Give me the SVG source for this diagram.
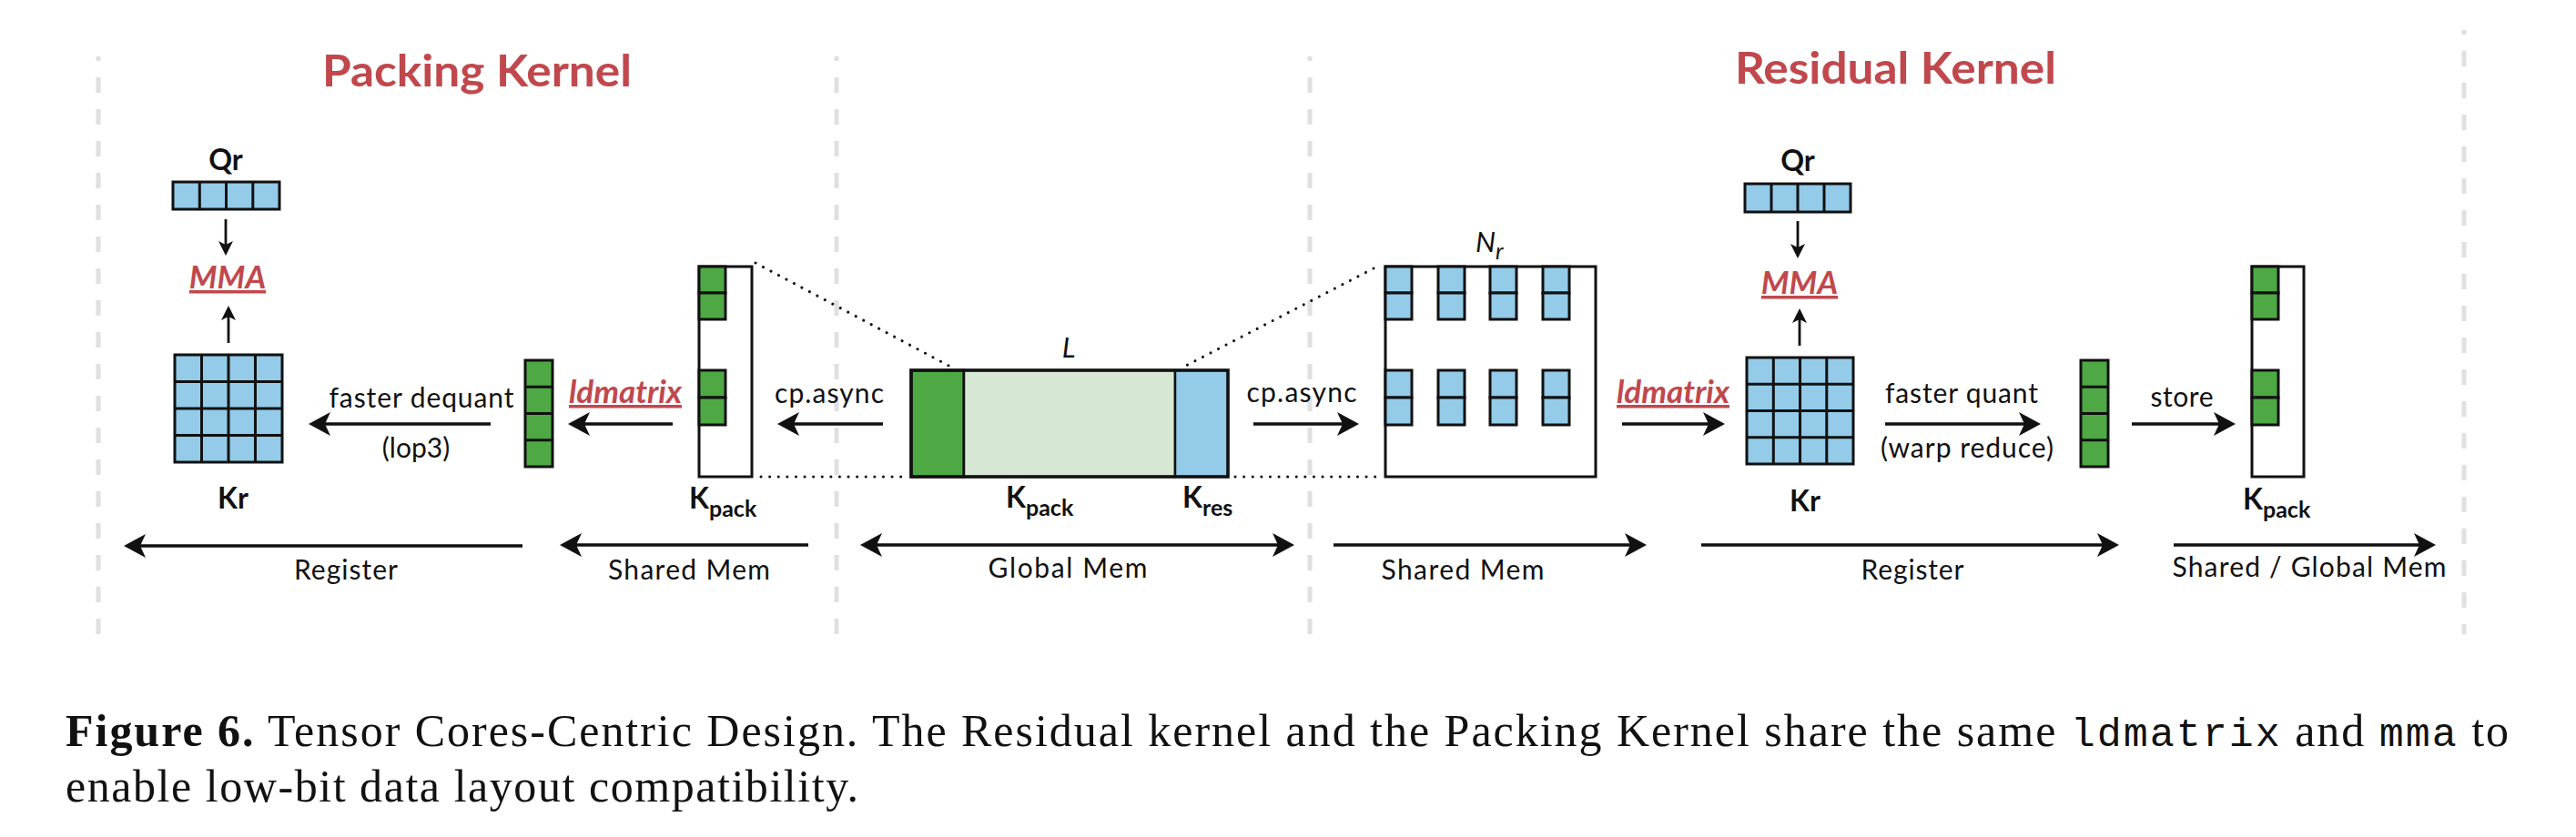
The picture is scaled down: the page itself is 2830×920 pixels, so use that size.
<svg xmlns="http://www.w3.org/2000/svg" width="2830" height="920" viewBox="0 0 2830 920">
<defs>
<style>
.sep{stroke:#e0e0e0;stroke-width:5;stroke-dasharray:17 18;stroke-dashoffset:12;fill:none}
.title{font-family:Lato,"Open Sans",sans-serif;font-weight:700;font-size:48px;fill:#c0484d}
.lbl{font-family:Lato,"Open Sans",sans-serif;font-size:30px;fill:#111}
.b{font-family:Lato,"Open Sans",sans-serif;font-weight:700;font-size:32px;fill:#111}
.sub{font-size:25px}
.op{font-family:Lato,"Open Sans",sans-serif;font-weight:700;font-style:italic;font-size:35px;fill:#c0484d;text-decoration:underline}
.it{font-family:Lato,"Open Sans",sans-serif;font-style:italic;font-size:31px;fill:#111}
.blue{fill:#93cbe8;stroke:#111;stroke-width:3}
.green{fill:#4ea944;stroke:#111;stroke-width:3}
.lg{fill:#d6e8d4;stroke:#111;stroke-width:2.5}
.box{fill:#fff;stroke:#111;stroke-width:3}
.gl{stroke:#111;stroke-width:3;fill:none}
.arr{stroke:#111;stroke-width:3.5;fill:none;marker-end:url(#ah)}
.arr2{stroke:#111;stroke-width:3.5;fill:none;marker-end:url(#ah);marker-start:url(#ahs)}
.sarr{stroke:#111;stroke-width:2.8;fill:none;marker-end:url(#sh)}
.dot{stroke:#111;stroke-width:3;stroke-dasharray:0.1 9.5;stroke-linecap:round;fill:none}
.cap{font-family:"Liberation Serif",serif;font-size:50px;fill:#111}
.mono{font-family:"Liberation Mono",monospace;font-size:45px}
</style>
<marker id="ah" markerUnits="userSpaceOnUse" markerWidth="24" markerHeight="26" viewBox="0 0 24 26" refX="6" refY="13" orient="auto">
<path d="M0,0 L24,13 L0,26 L6,13 Z" fill="#111"/>
</marker>
<marker id="ahs" markerUnits="userSpaceOnUse" markerWidth="24" markerHeight="26" viewBox="0 0 24 26" refX="18" refY="13" orient="auto">
<path d="M24,0 L0,13 L24,26 L18,13 Z" fill="#111"/>
</marker>
<marker id="sh" markerUnits="userSpaceOnUse" markerWidth="16" markerHeight="16" viewBox="0 0 16 16" refX="4" refY="8" orient="auto">
<path d="M0,0 L16,8 L0,16 L4,8 Z" fill="#111"/>
</marker>
</defs>
<rect width="2830" height="920" fill="#fff"/>

<g id="separators">
<line class="sep" x1="108" y1="62" x2="108" y2="712"/>
<line class="sep" x1="919" y1="62" x2="919" y2="712"/>
<line class="sep" x1="1439" y1="62" x2="1439" y2="712"/>
<line class="sep" x1="2707" y1="33" x2="2707" y2="697"/>
</g>

<g id="titles">
<text class="title" x="354" y="95" textLength="340" lengthAdjust="spacingAndGlyphs">Packing Kernel</text>
<text class="title" x="1906" y="92" textLength="353" lengthAdjust="spacingAndGlyphs">Residual Kernel</text>
</g>

<g id="qr-left">
<text class="b" x="248" y="187" text-anchor="middle">Qr</text>
<rect class="blue" x="190" y="200" width="117" height="30"/>
<path class="gl" d="M219.3,200V230M248.5,200V230M277.8,200V230"/>
</g>
<g id="mma-left">
<text class="op" x="250" y="317" text-anchor="middle">MMA</text>
</g>
<g id="kr-left">
<rect class="blue" x="192" y="390" width="118" height="118"/>
<path class="gl" d="M221.5,390V508M251,390V508M280.5,390V508M192,419.5H310M192,449H310M192,478.5H310"/>
<text class="b" x="256" y="559" text-anchor="middle">Kr</text>
</g>
<g id="dequant-col-left">
<rect class="green" x="577" y="396" width="30" height="117"/>
<path class="gl" d="M577,425.3H607M577,454.5H607M577,483.8H607"/>
</g>
<g id="ldmatrix-left">
<text class="op" x="687" y="443" text-anchor="middle">ldmatrix</text>
</g>
<g id="kpack-smem-left">
<rect class="box" x="768" y="293" width="58" height="231"/>
<rect class="green" x="768" y="293" width="29" height="29"/>
<rect class="green" x="768" y="322" width="29" height="29"/>
<rect class="green" x="768" y="407" width="29" height="30"/>
<rect class="green" x="768" y="437" width="29" height="30"/>
<text class="b" x="757" y="559">K<tspan class="sub" dy="9">pack</tspan></text>
</g>

<g id="global-tensor">
<rect class="green" x="1001" y="407" width="58" height="117"/>
<rect class="lg" x="1059" y="407" width="232" height="117"/>
<rect class="blue" x="1291" y="407" width="58" height="117" style="stroke-width:2.5"/>
<rect x="1001" y="407" width="348" height="117" fill="none" stroke="#111" stroke-width="3.5"/>
<text class="it" x="1174" y="393" text-anchor="middle">L</text>
<text class="b" x="1105" y="558">K<tspan class="sub" dy="9">pack</tspan></text>
<text class="b" x="1299" y="558">K<tspan class="sub" dy="9">res</tspan></text>
</g>

<g id="residual-smem">
<rect class="box" x="1522" y="293" width="231" height="231"/>
<g>
<rect class="blue" x="1522" y="293" width="29" height="29"/><rect class="blue" x="1522" y="322" width="29" height="29"/>
<rect class="blue" x="1580" y="293" width="29" height="29"/><rect class="blue" x="1580" y="322" width="29" height="29"/>
<rect class="blue" x="1637" y="293" width="29" height="29"/><rect class="blue" x="1637" y="322" width="29" height="29"/>
<rect class="blue" x="1695" y="293" width="29" height="29"/><rect class="blue" x="1695" y="322" width="29" height="29"/>
<rect class="blue" x="1522" y="407" width="29" height="30"/><rect class="blue" x="1522" y="437" width="29" height="30"/>
<rect class="blue" x="1580" y="407" width="29" height="30"/><rect class="blue" x="1580" y="437" width="29" height="30"/>
<rect class="blue" x="1637" y="407" width="29" height="30"/><rect class="blue" x="1637" y="437" width="29" height="30"/>
<rect class="blue" x="1695" y="407" width="29" height="30"/><rect class="blue" x="1695" y="437" width="29" height="30"/>
</g>
<text class="it" x="1621" y="277">N<tspan class="sub" dy="8">r</tspan></text>
</g>

<g id="ldmatrix-right">
<text class="op" x="1838" y="443" text-anchor="middle">ldmatrix</text>
</g>
<g id="qr-right">
<text class="b" x="1975" y="188" text-anchor="middle">Qr</text>
<rect class="blue" x="1917" y="202" width="116" height="31"/>
<path class="gl" d="M1946,202V233M1975,202V233M2004,202V233"/>
</g>
<g id="mma-right">
<text class="op" x="1977" y="323" text-anchor="middle">MMA</text>
</g>
<g id="kr-right">
<rect class="blue" x="1919" y="393" width="117" height="117"/>
<path class="gl" d="M1948.3,393V510M1977.5,393V510M2006.8,393V510M1919,422.3H2036M1919,451.5H2036M1919,480.8H2036"/>
<text class="b" x="1983" y="562" text-anchor="middle">Kr</text>
</g>
<g id="quant-col-right">
<rect class="green" x="2286" y="396" width="30" height="117"/>
<path class="gl" d="M2286,425.3H2316M2286,454.5H2316M2286,483.8H2316"/>
</g>
<g id="kpack-out-right">
<rect class="box" x="2474" y="293" width="57" height="231"/>
<rect class="green" x="2474" y="293" width="29" height="29"/>
<rect class="green" x="2474" y="322" width="29" height="29"/>
<rect class="green" x="2474" y="407" width="29" height="30"/>
<rect class="green" x="2474" y="437" width="29" height="30"/>
<text class="b" x="2464" y="560">K<tspan class="sub" dy="9">pack</tspan></text>
</g>

<g id="connectors">
<line class="dot" x1="830" y1="289" x2="1048" y2="405"/>
<line class="dot" x1="836" y1="524" x2="998" y2="524"/>
<line class="dot" x1="1509" y1="295" x2="1297" y2="405"/>
<line class="dot" x1="1357" y1="524" x2="1518" y2="524"/>
<line class="sarr" x1="248" y1="241" x2="248" y2="269"/>
<line class="sarr" x1="251" y1="377" x2="251" y2="348"/>
<line class="sarr" x1="1975" y1="243" x2="1975" y2="272"/>
<line class="sarr" x1="1977" y1="380" x2="1977" y2="351"/>
<line class="arr" x1="539" y1="466" x2="357" y2="466"/>
<line class="arr" x1="739" y1="466" x2="642" y2="466"/>
<line class="arr" x1="970" y1="466" x2="872" y2="466"/>
<line class="arr" x1="1377" y1="466" x2="1475" y2="466"/>
<line class="arr" x1="1782" y1="466" x2="1877" y2="466"/>
<line class="arr" x1="2071" y1="466" x2="2224" y2="466"/>
<line class="arr" x1="2342" y1="466" x2="2438" y2="466"/>
<line class="arr" x1="574" y1="600" x2="154" y2="600"/>
<line class="arr" x1="888" y1="599" x2="633" y2="599"/>
<line class="arr2" x1="963" y1="599" x2="1404" y2="599"/>
<line class="arr" x1="1465" y1="599" x2="1791" y2="599"/>
<line class="arr" x1="1869" y1="599" x2="2310" y2="599"/>
<line class="arr" x1="2388" y1="599" x2="2658" y2="599"/>
<text class="lbl" x="463" y="448" text-anchor="middle" textLength="203">faster dequant</text>
<text class="lbl" x="457" y="503" text-anchor="middle">(lop3)</text>
<text class="lbl" x="911" y="443" text-anchor="middle" textLength="120">cp.async</text>
<text class="lbl" x="1430" y="442" text-anchor="middle" textLength="121">cp.async</text>
<text class="lbl" x="2155" y="443" text-anchor="middle" textLength="168">faster quant</text>
<text class="lbl" x="2161" y="503" text-anchor="middle" textLength="190">(warp reduce)</text>
<text class="lbl" x="2397" y="447" text-anchor="middle" textLength="69">store</text>
<text class="lbl" x="380" y="637" text-anchor="middle" textLength="114">Register</text>
<text class="lbl" x="757" y="637" text-anchor="middle" textLength="178">Shared Mem</text>
<text class="lbl" x="1173" y="635" text-anchor="middle" textLength="175">Global Mem</text>
<text class="lbl" x="1607" y="637" text-anchor="middle" textLength="179">Shared Mem</text>
<text class="lbl" x="2101" y="637" text-anchor="middle" textLength="113">Register</text>
<text class="lbl" x="2537" y="634" text-anchor="middle" textLength="301">Shared / Global Mem</text>
</g>

<g id="caption">
<text class="cap" x="72" y="820" textLength="2684" lengthAdjust="spacing"><tspan font-weight="700">Figure 6.</tspan> Tensor Cores-Centric Design. The Residual kernel and the Packing Kernel share the same <tspan class="mono">ldmatrix</tspan> and <tspan class="mono">mma</tspan> to</text>
<text class="cap" x="72" y="881" textLength="871" lengthAdjust="spacing">enable low-bit data layout compatibility.</text>
</g>
</svg>
